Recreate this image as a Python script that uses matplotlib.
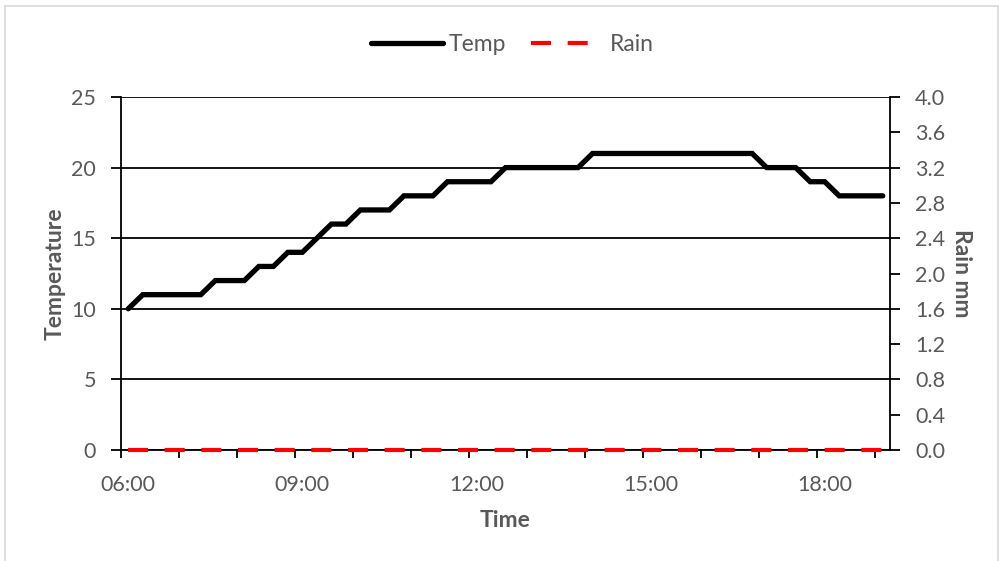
import matplotlib
matplotlib.use("Agg")
import matplotlib.pyplot as plt
from matplotlib.patches import Rectangle
import numpy as np

# ---- data (15-minute readings, 06:00 .. 19:00) ----
times = ["%02d:%02d" % (h, m) for h in range(6, 20) for m in (0, 15, 30, 45)][:53]
temp = [10,
        11, 11, 11, 11, 11,
        12, 12, 12,
        13, 13,
        14, 14,
        15,
        16, 16,
        17, 17, 17,
        18, 18, 18,
        19, 19, 19, 19,
        20, 20, 20, 20, 20, 20,
        21, 21, 21, 21, 21, 21, 21, 21, 21, 21, 21, 21,
        20, 20, 20,
        19, 19,
        18, 18, 18, 18]
rain = [0.0] * 53
x_labels = ["06:00", "09:00", "12:00", "15:00", "18:00"]
left_ticks = [0, 5, 10, 15, 20, 25]
right_ticks = [0.0, 0.4, 0.8, 1.2, 1.6, 2.0, 2.4, 2.8, 3.2, 3.6, 4.0]

GRAY = "#595959"
FONT = "Lato"
FS = 15.5      # tick labels
FSL = 16.5     # axis titles / legend

plt.rcParams["font.family"] = [FONT, "DejaVu Sans"]

fig = plt.figure(figsize=(10.04, 5.61), dpi=100)
fig.patches.append(Rectangle((5 / 1004, -0.02), 993 / 1004, 1 - 6 / 561 + 0.02,
                             transform=fig.transFigure, fill=False,
                             edgecolor="#d9d9d9", linewidth=1.2))

ax = fig.add_axes([121 / 1004, 1 - 450 / 561, (890 - 121) / 1004, (450 - 97) / 561])
ax2 = ax.twinx()

n = len(temp)
x = np.arange(n)

# grid lines (left axis)
for v in left_ticks:
    ax.axhline(v, color="black", linewidth=1.3, zorder=1)

ln1, = ax.plot(x, temp, color="black", linewidth=3.8, solid_joinstyle="miter",
               solid_capstyle="round", zorder=5, label="Temp")
ln2, = ax2.plot(x, rain, color="#ff0000", linewidth=3.0, dashes=(4.8, 4.0),
                dash_capstyle="butt", zorder=6, label="Rain", clip_on=False)

ax.set_xlim(-0.5, n - 0.5)
ax.set_ylim(0, 25)
ax2.set_ylim(0, 4.0)

# x axis: tick marks each hour at category boundaries, labels every 3 hours
ax.set_xticks(np.arange(-0.5, n - 1, 4))
ax.set_xticklabels([])
lab_pos = [times.index(t) for t in x_labels]
ax.set_xticks(lab_pos, minor=True)
ax.set_xticklabels(x_labels, minor=True)
ax.tick_params(axis="x", which="major", length=6, width=1.3, direction="out", color="black")
ax.tick_params(axis="x", which="minor", length=0, pad=18, labelsize=FS, labelcolor=GRAY)

ax.set_yticks(left_ticks)
ax.set_yticklabels([str(v) for v in left_ticks])
ax.tick_params(axis="y", length=7, width=1.3, direction="out", pad=11,
               labelsize=FS, labelcolor=GRAY)

ax2.set_yticks(right_ticks)
ax2.set_yticklabels(["%.1f" % v for v in right_ticks])
ax2.tick_params(axis="y", length=7, width=1.3, direction="out", pad=11,
                labelsize=FS, labelcolor=GRAY)

for a in (ax, ax2):
    a.spines["top"].set_visible(False)
    for s in ("left", "right", "bottom"):
        a.spines[s].set_linewidth(1.3)
        a.spines[s].set_color("black")
ax.spines["right"].set_visible(False)
ax2.spines["left"].set_visible(False)
ax2.spines["bottom"].set_visible(False)

ax.set_ylabel("Temperature", fontsize=FSL, fontweight="bold", color=GRAY, labelpad=4)
ax2.set_ylabel("Rain mm", fontsize=FSL, fontweight="bold", color=GRAY, rotation=270,
               labelpad=19)
ax.set_xlabel("Time", fontsize=FSL, fontweight="bold", color=GRAY, labelpad=11)

leg = fig.legend([ln1, ln2], ["Temp", "Rain"], loc="center", ncol=2,
                 bbox_to_anchor=(0.51, 1 - 45 / 561), frameon=False,
                 fontsize=FSL, handlelength=3.15, handletextpad=0.26, columnspacing=1.1)
for t in leg.get_texts():
    t.set_color(GRAY)

fig.savefig("out.png", dpi=100)
